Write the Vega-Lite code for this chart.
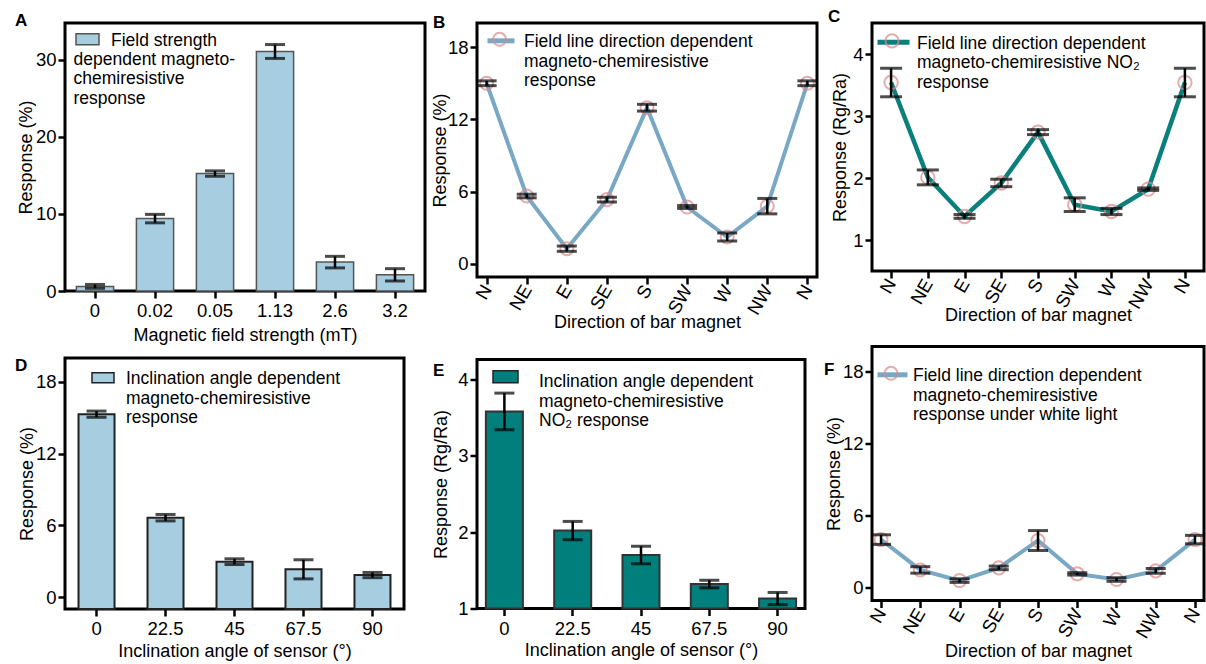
{
  "$schema": "https://vega.github.io/schema/vega-lite/v6.json",
  "padding": {"left": 13, "top": 6, "right": 0, "bottom": 0},
  "spacing": 2,
  "resolve": {"scale": {"color": "independent", "stroke": "independent"}, "legend": {"color": "independent", "stroke": "independent"}},
  "config": {
    "font": "Liberation Sans",
    "view": {"stroke": "black", "strokeWidth": 3},
    "axis": {"domain": false, "grid": false, "tickColor": "black", "tickWidth": 2.5, "tickSize": 7,
             "labelFont": "Liberation Sans", "labelFontSize": 18.5, "labelColor": "black", "labelPadding": 2,
             "titleFont": "Liberation Sans", "titleFontSize": 18, "titleFontWeight": "normal", "titleColor": "black"},
    "axisX": {"titlePadding": 6, "labelPadding": 3.5},
    "legend": {"labelFont": "Liberation Sans", "labelFontSize": 17.5, "labelColor": "black", "orient": "none",
               "title": null, "padding": 0, "labelLimit": 500, "labelBaseline": "top"},
    "title": {"font": "Liberation Sans", "fontSize": 17, "fontWeight": "bold", "anchor": "start", "frame": "group",
              "baseline": "top", "offset": 0, "color": "black"}
  },
  "hconcat": [
    {
      "spacing": 9,
      "resolve": {"scale": {"color": "independent", "stroke": "independent"}, "legend": {"color": "independent", "stroke": "independent"}},
      "vconcat": [
        {
          "width": 360, "height": 268,
          "title": {"text": "A", "dx": -50, "dy": 15},
          "data": {"values": [
            {"field": "0", "mean": 0.6, "err": 0.25, "series": "Field strength", "note": "dependent magneto-|chemiresistive|response"},
            {"field": "0.02", "mean": 9.4, "err": 0.55, "series": "Field strength", "note": "dependent magneto-|chemiresistive|response"},
            {"field": "0.05", "mean": 15.25, "err": 0.35, "series": "Field strength", "note": "dependent magneto-|chemiresistive|response"},
            {"field": "1.13", "mean": 31.1, "err": 0.9, "series": "Field strength", "note": "dependent magneto-|chemiresistive|response"},
            {"field": "2.6", "mean": 3.75, "err": 0.75, "series": "Field strength", "note": "dependent magneto-|chemiresistive|response"},
            {"field": "3.2", "mean": 2.1, "err": 0.8, "series": "Field strength", "note": "dependent magneto-|chemiresistive|response"}
          ]},
          "encoding": {
            "x": {"field": "field", "type": "ordinal", "sort": null,
                  "scale": {"paddingInner": 0.38, "paddingOuter": 0.19},
                  "axis": {"title": "Magnetic field strength (mT)", "labelAngle": 0}},
            "y": {"field": "mean", "type": "quantitative", "scale": {"domain": [0, 34.8], "nice": false},
                  "axis": {"values": [0, 10, 20, 30], "title": "Response (%)", "titlePadding": 0}}
          },
          "layer": [
            {"mark": {"type": "bar", "strokeWidth": 1.5},
             "encoding": {
               "color": {"field": "series", "type": "nominal", "scale": {"range": ["#a6cde0"]},
                 "legend": {"legendX": 10, "legendY": -4, "symbolType": "M-1,0.2H1V1.16H-1Z", "symbolSize": 529,
                            "symbolStrokeColor": "#555555", "symbolStrokeWidth": 1.5, "labelOffset": 11}},
               "stroke": {"field": "note", "type": "nominal", "scale": {"range": ["#555555"]},
                 "legend": {"legendX": -9, "legendY": 19, "symbolSize": 1, "symbolOpacity": 0, "labelOffset": 0,
                            "labelExpr": "split(datum.label, '|')",
                            "encoding": {"labels": {"update": {"lineHeight": {"value": 23.5}}}}}}}},
            {"mark": {"type": "errorbar", "color": "black", "ticks": {"size": 20, "thickness": 3}, "rule": {"strokeWidth": 2.5}},
             "encoding": {"yError": {"field": "err"}}}
          ]
        },
        {
          "width": 339, "height": 251,
          "title": {"text": "D", "dx": -50, "dy": 20.5},
          "data": {"values": [
            {"angle": "0", "mean": 15.3, "err": 0.26, "series": "Inclination angle dependent|magneto-chemiresistive|response"},
            {"angle": "22.5", "mean": 6.64, "err": 0.27, "series": "Inclination angle dependent|magneto-chemiresistive|response"},
            {"angle": "45", "mean": 2.96, "err": 0.24, "series": "Inclination angle dependent|magneto-chemiresistive|response"},
            {"angle": "67.5", "mean": 2.32, "err": 0.8, "series": "Inclination angle dependent|magneto-chemiresistive|response"},
            {"angle": "90", "mean": 1.84, "err": 0.22, "series": "Inclination angle dependent|magneto-chemiresistive|response"}
          ]},
          "encoding": {
            "x": {"field": "angle", "type": "ordinal", "sort": null,
                  "scale": {"paddingInner": 0.478, "paddingOuter": 0.196},
                  "axis": {"title": "Inclination angle of sensor (°)", "labelAngle": 0, "titlePadding": 4}},
            "y": {"field": "mean", "type": "quantitative", "scale": {"domain": [-1, 20], "nice": false, "zero": false},
                  "axis": {"values": [0, 6, 12, 18], "title": "Response (%)", "titlePadding": -1}}
          },
          "layer": [
            {"mark": {"type": "bar", "stroke": "#222222", "strokeWidth": 2},
             "encoding": {"y2": {"datum": -1},
               "color": {"field": "series", "type": "nominal", "scale": {"range": ["#a6cde0"]},
               "legend": {"legendX": 26, "legendY": 0, "symbolType": "M-1,0.26H1V1.16H-1Z", "symbolSize": 484,
                          "symbolStrokeColor": "#222222", "symbolStrokeWidth": 1.5, "labelOffset": 11,
                          "labelExpr": "split(datum.label, '|')",
                          "encoding": {"labels": {"update": {"lineHeight": {"value": 24.5}}}}}}}},
            {"mark": {"type": "errorbar", "color": "black", "ticks": {"size": 20, "thickness": 3}, "rule": {"strokeWidth": 2.5}},
             "encoding": {"yError": {"field": "err"}}}
          ]
        }
      ]
    },
    {
      "spacing": 24.5,
      "resolve": {"scale": {"color": "independent", "stroke": "independent"}, "legend": {"color": "independent", "stroke": "independent"}},
      "vconcat": [
        {
          "width": 340, "height": 254,
          "title": {"text": "B", "dx": -44, "dy": 19},
          "data": {"values": [
            {"dir": "N", "mean": 15.0, "err": 0.2, "series": "Field line direction dependent|magneto-chemiresistive|response"},
            {"dir": "NE", "mean": 5.64, "err": 0.15, "series": "Field line direction dependent|magneto-chemiresistive|response"},
            {"dir": "E", "mean": 1.27, "err": 0.22, "series": "Field line direction dependent|magneto-chemiresistive|response"},
            {"dir": "SE", "mean": 5.34, "err": 0.2, "series": "Field line direction dependent|magneto-chemiresistive|response"},
            {"dir": "S", "mean": 12.97, "err": 0.28, "series": "Field line direction dependent|magneto-chemiresistive|response"},
            {"dir": "SW", "mean": 4.73, "err": 0.12, "series": "Field line direction dependent|magneto-chemiresistive|response"},
            {"dir": "W", "mean": 2.24, "err": 0.33, "series": "Field line direction dependent|magneto-chemiresistive|response"},
            {"dir": "NW", "mean": 4.8, "err": 0.64, "series": "Field line direction dependent|magneto-chemiresistive|response"},
            {"dir": "N ", "mean": 15.0, "err": 0.2, "series": "Field line direction dependent|magneto-chemiresistive|response"}
          ]},
          "encoding": {
            "x": {"field": "dir", "type": "ordinal", "sort": null, "scale": {"type": "point", "padding": 0.24},
                  "axis": {"title": "Direction of bar magnet", "labelAngle": -60, "labelAlign": "right", "labelBaseline": "middle",
                           "labelExpr": "trim(datum.label)", "titlePadding": -4, "labelPadding": 2}},
            "y": {"field": "mean", "type": "quantitative", "scale": {"domain": [-1.08, 20], "nice": false, "zero": false},
                  "axis": {"values": [0, 6, 12, 18], "title": "Response (%)", "titlePadding": -2}}
          },
          "layer": [
            {"mark": {"type": "line", "strokeWidth": 4},
             "encoding": {"color": {"field": "series", "type": "nominal", "scale": {"range": ["#79a8c4"]},
               "legend": {"legendX": 8, "legendY": -6, "symbolType": "M-1,0.58H1", "symbolSize": 729, "symbolStrokeWidth": 5,
                          "labelOffset": 7, "labelExpr": "split(datum.label, '|')",
                          "encoding": {"labels": {"update": {"lineHeight": {"value": 24}}}}}}}},
            {"mark": {"type": "point", "filled": false, "size": 170, "strokeWidth": 2},
             "encoding": {"stroke": {"field": "series", "type": "nominal", "scale": {"range": ["#d98a8a"]},
               "legend": {"legendX": 8, "legendY": -6, "symbolType": "M0.48,0.58A0.48,0.48 0 1,1 -0.48,0.58A0.48,0.48 0 1,1 0.48,0.58Z",
                          "symbolSize": 729, "symbolStrokeWidth": 2, "symbolFillColor": "white", "labelExpr": "''",
                          "encoding": {"symbols": {"update": {"fill": {"value": "white"}, "strokeWidth": {"value": 2}}}}}}}},
            {"mark": {"type": "errorbar", "color": "black", "ticks": {"size": 20, "thickness": 3}, "rule": {"strokeWidth": 2.5}},
             "encoding": {"yError": {"field": "err"}}}
          ]
        },
        {
          "width": 328, "height": 249,
          "title": {"text": "E", "dx": -44, "dy": 24.5},
          "data": {"values": [
            {"angle": "0", "mean": 3.58, "err": 0.24, "series": "Inclination angle dependent|magneto-chemiresistive|NO₂ response"},
            {"angle": "22.5", "mean": 2.02, "err": 0.12, "series": "Inclination angle dependent|magneto-chemiresistive|NO₂ response"},
            {"angle": "45", "mean": 1.7, "err": 0.115, "series": "Inclination angle dependent|magneto-chemiresistive|NO₂ response"},
            {"angle": "67.5", "mean": 1.32, "err": 0.05, "series": "Inclination angle dependent|magneto-chemiresistive|NO₂ response"},
            {"angle": "90", "mean": 1.13, "err": 0.08, "series": "Inclination angle dependent|magneto-chemiresistive|NO₂ response"}
          ]},
          "encoding": {
            "x": {"field": "angle", "type": "ordinal", "sort": null,
                  "scale": {"paddingInner": 0.458, "paddingOuter": 0.13},
                  "axis": {"title": "Inclination angle of sensor (°)", "labelAngle": 0, "titlePadding": 4}},
            "y": {"field": "mean", "type": "quantitative", "scale": {"domain": [1, 4.26], "nice": false, "zero": false},
                  "axis": {"values": [1, 2, 3, 4], "title": "Response (Rg/Ra)", "titlePadding": 7}}
          },
          "layer": [
            {"mark": {"type": "bar", "stroke": "#333333", "strokeWidth": 2},
             "encoding": {"y2": {"datum": 1},
               "color": {"field": "series", "type": "nominal", "scale": {"range": ["#007f7d"]},
               "legend": {"legendX": 15, "legendY": 0, "symbolType": "M-1,-0.18H1V0.78H-1Z", "symbolSize": 625,
                          "symbolStrokeColor": "#222222", "symbolStrokeWidth": 1.5, "labelOffset": 20,
                          "labelExpr": "split(datum.label, '|')",
                          "encoding": {"labels": {"update": {"lineHeight": {"value": 25}}}}}}}},
            {"mark": {"type": "errorbar", "color": "black", "ticks": {"size": 20, "thickness": 3}, "rule": {"strokeWidth": 2.5}},
             "encoding": {"yError": {"field": "err"}}}
          ]
        }
      ]
    },
    {
      "spacing": 18.5,
      "resolve": {"scale": {"color": "independent", "stroke": "independent"}, "legend": {"color": "independent", "stroke": "independent"}},
      "vconcat": [
        {
          "width": 332, "height": 248,
          "title": {"text": "C", "dx": -44, "dy": 14},
          "data": {"values": [
            {"dir": "N", "mean": 3.54, "err": 0.23, "series": "Field line direction dependent|magneto-chemiresistive  NO₂|response"},
            {"dir": "NE", "mean": 2.01, "err": 0.12, "series": "Field line direction dependent|magneto-chemiresistive  NO₂|response"},
            {"dir": "E", "mean": 1.38, "err": 0.03, "series": "Field line direction dependent|magneto-chemiresistive  NO₂|response"},
            {"dir": "SE", "mean": 1.92, "err": 0.06, "series": "Field line direction dependent|magneto-chemiresistive  NO₂|response"},
            {"dir": "S", "mean": 2.74, "err": 0.04, "series": "Field line direction dependent|magneto-chemiresistive  NO₂|response"},
            {"dir": "SW", "mean": 1.57, "err": 0.11, "series": "Field line direction dependent|magneto-chemiresistive  NO₂|response"},
            {"dir": "W", "mean": 1.46, "err": 0.05, "series": "Field line direction dependent|magneto-chemiresistive  NO₂|response"},
            {"dir": "NW", "mean": 1.82, "err": 0.02, "series": "Field line direction dependent|magneto-chemiresistive  NO₂|response"},
            {"dir": "N ", "mean": 3.54, "err": 0.23, "series": "Field line direction dependent|magneto-chemiresistive  NO₂|response"}
          ]},
          "encoding": {
            "x": {"field": "dir", "type": "ordinal", "sort": null, "scale": {"type": "point", "padding": 0.52},
                  "axis": {"title": "Direction of bar magnet", "labelAngle": -60, "labelAlign": "right", "labelBaseline": "middle",
                           "labelExpr": "trim(datum.label)", "titlePadding": -5, "labelPadding": 2}},
            "y": {"field": "mean", "type": "quantitative", "scale": {"domain": [0.5, 4.5], "nice": false, "zero": false},
                  "axis": {"values": [1, 2, 3, 4], "title": "Response (Rg/Ra)", "titlePadding": 3}}
          },
          "layer": [
            {"mark": {"type": "line", "strokeWidth": 4.5},
             "encoding": {"color": {"field": "series", "type": "nominal", "scale": {"range": ["#0a7f7b"]},
               "legend": {"legendX": 3, "legendY": -7, "symbolType": "M-1,0.49H1", "symbolSize": 1024, "symbolStrokeWidth": 5,
                          "labelOffset": 5, "labelExpr": "split(datum.label, '|')",
                          "encoding": {"labels": {"update": {"lineHeight": {"value": 26}}}}}}}},
            {"mark": {"type": "point", "filled": false, "size": 180, "strokeWidth": 2},
             "encoding": {"stroke": {"field": "series", "type": "nominal", "scale": {"range": ["#d98a8a"]},
               "legend": {"legendX": 3, "legendY": -7, "symbolType": "M0.41,0.49A0.41,0.41 0 1,1 -0.41,0.49A0.41,0.41 0 1,1 0.41,0.49Z",
                          "symbolSize": 1024, "symbolStrokeWidth": 2, "symbolFillColor": "white", "labelExpr": "''",
                          "encoding": {"symbols": {"update": {"fill": {"value": "white"}, "strokeWidth": {"value": 2}}}}}}}},
            {"mark": {"type": "errorbar", "color": "black", "ticks": {"size": 22, "thickness": 3}, "rule": {"strokeWidth": 2.5}},
             "encoding": {"yError": {"field": "err"}}}
          ]
        },
        {
          "width": 332, "height": 254,
          "title": {"text": "F", "dx": -48, "dy": 36.5},
          "data": {"values": [
            {"dir": "N", "mean": 4.0, "err": 0.4, "series": "Field line direction dependent|magneto-chemiresistive|response under white light"},
            {"dir": "NE", "mean": 1.47, "err": 0.27, "series": "Field line direction dependent|magneto-chemiresistive|response under white light"},
            {"dir": "E", "mean": 0.58, "err": 0.15, "series": "Field line direction dependent|magneto-chemiresistive|response under white light"},
            {"dir": "SE", "mean": 1.64, "err": 0.15, "series": "Field line direction dependent|magneto-chemiresistive|response under white light"},
            {"dir": "S", "mean": 3.92, "err": 0.83, "series": "Field line direction dependent|magneto-chemiresistive|response under white light"},
            {"dir": "SW", "mean": 1.14, "err": 0.1, "series": "Field line direction dependent|magneto-chemiresistive|response under white light"},
            {"dir": "W", "mean": 0.67, "err": 0.15, "series": "Field line direction dependent|magneto-chemiresistive|response under white light"},
            {"dir": "NW", "mean": 1.39, "err": 0.2, "series": "Field line direction dependent|magneto-chemiresistive|response under white light"},
            {"dir": "N ", "mean": 4.0, "err": 0.35, "series": "Field line direction dependent|magneto-chemiresistive|response under white light"}
          ]},
          "encoding": {
            "x": {"field": "dir", "type": "ordinal", "sort": null, "scale": {"type": "point", "padding": 0.23},
                  "axis": {"title": "Direction of bar magnet", "labelAngle": -60, "labelAlign": "right", "labelBaseline": "middle",
                           "labelExpr": "trim(datum.label)", "titlePadding": 2, "labelPadding": 2}},
            "y": {"field": "mean", "type": "quantitative", "scale": {"domain": [-1.08, 20.1], "nice": false, "zero": false},
                  "axis": {"values": [0, 6, 12, 18], "title": "Response (%)", "titlePadding": -1}}
          },
          "layer": [
            {"mark": {"type": "line", "strokeWidth": 4},
             "encoding": {"color": {"field": "series", "type": "nominal", "scale": {"range": ["#79a8c4"]},
               "legend": {"legendX": 3, "legendY": 3, "symbolType": "M-1,0.52H1", "symbolSize": 900, "symbolStrokeWidth": 5,
                          "labelOffset": 3, "labelExpr": "split(datum.label, '|')",
                          "encoding": {"labels": {"update": {"lineHeight": {"value": 23}}}}}}}},
            {"mark": {"type": "point", "filled": false, "size": 170, "strokeWidth": 2},
             "encoding": {"stroke": {"field": "series", "type": "nominal", "scale": {"range": ["#d98a8a"]},
               "legend": {"legendX": 3, "legendY": 3, "symbolType": "M0.43,0.52A0.43,0.43 0 1,1 -0.43,0.52A0.43,0.43 0 1,1 0.43,0.52Z",
                          "symbolSize": 900, "symbolStrokeWidth": 2, "symbolFillColor": "white", "labelExpr": "''",
                          "encoding": {"symbols": {"update": {"fill": {"value": "white"}, "strokeWidth": {"value": 2}}}}}}}},
            {"mark": {"type": "errorbar", "color": "black", "ticks": {"size": 20, "thickness": 3}, "rule": {"strokeWidth": 2.5}},
             "encoding": {"yError": {"field": "err"}}}
          ]
        }
      ]
    }
  ]
}
